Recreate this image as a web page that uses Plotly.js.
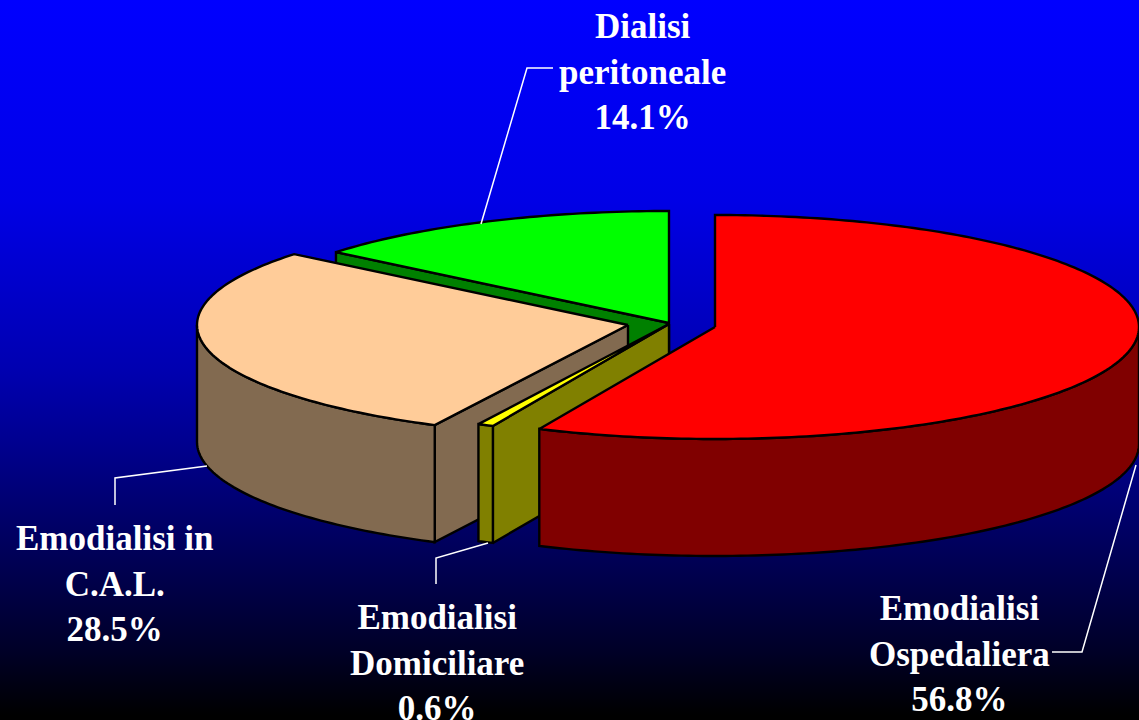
<!DOCTYPE html>
<html>
<head>
<meta charset="utf-8">
<script src="https://cdn.plot.ly/plotly-3.0.1.min.js"></script>
<style>
html,body{margin:0;padding:0;width:1139px;height:720px;overflow:hidden;
background:linear-gradient(to bottom,#0000ff 0px,#0000e6 200px,#0000b0 370px,#00008c 450px,#00005a 550px,#000028 650px,#000000 715px);}
#chart{width:1139px;height:720px;}
</style>
</head>
<body>
<div id="chart"></div>
<script>
// Data, clockwise from 12 o'clock
const categories = ["Emodialisi<br>Ospedaliera", "Emodialisi<br>Domiciliare", "Emodialisi in<br>C.A.L.", "Dialisi<br>peritoneale"];
const shares = [56.8, 0.6, 28.5, 14.1];
const topColors = ["#ff0000", "#ffff00", "#ffcc99", "#00ff00"];
const wallColors = ["#800000", "#808000", "#826a50", "#008000"];

// Pie projection per slice (explosion offsets)
const centreX = [715, 669, 628, 669];
const centreY = [327, 324, 325, 323];
const radiusX = [424, 425, 431, 430];
const radiusY = 112;
const depth = 117;

// Label placement and leader lines
const labelX = [959, 437, 114, 642];
const labelY = [654, 663, 584, 72];
const leaderX = [[1136, 1082, 1052], [488, 436, 436], [207, 115, 115], [481, 527, 553]];
const leaderY = [[465, 652, 652], [543, 558, 584], [466, 478, 505], [224, 68, 68]];

const total = shares.reduce((a, b) => a + b, 0);
const rad = d => d * Math.PI / 180;
const startAngle = [];
const endAngle = [];
let running = 0;
shares.forEach(v => {
  startAngle.push(running);
  running += v / total * 360;
  endAngle.push(running);
});

function arc(i, a0, a1, dy) {
  const xs = [], ys = [];
  const n = Math.max(2, Math.ceil(Math.abs(a1 - a0)));
  for (let k = 0; k <= n; k++) {
    const a = rad(a0 + (a1 - a0) * k / n);
    xs.push(centreX[i] + radiusX[i] * Math.sin(a));
    ys.push(centreY[i] - radiusY * Math.cos(a) + dy);
  }
  return [xs, ys];
}
function poly(xs, ys, color) {
  return {
    type: "scatter", mode: "lines", x: xs.concat(xs[0]), y: ys.concat(ys[0]),
    fill: "toself", fillcolor: color, line: {color: "#000", width: 2.4, simplify: false},
    hoverinfo: "skip", showlegend: false
  };
}
function topFace(i) {
  const [ax, ay] = arc(i, startAngle[i], endAngle[i], 0);
  return poly([centreX[i]].concat(ax), [centreY[i]].concat(ay), topColors[i]);
}
function outerWall(i) {
  const a0 = Math.max(startAngle[i], 90), a1 = Math.min(endAngle[i], 270);
  if (a1 <= a0) return null;
  const [tx, ty] = arc(i, a0, a1, 0);
  const [bx, by] = arc(i, a0, a1, depth);
  return poly(tx.concat(bx.reverse()), ty.concat(by.reverse()), wallColors[i]);
}
function radialWall(i, angle) {
  const [ox, oy] = arc(i, angle, angle, 0);
  const cx = centreX[i], cy = centreY[i];
  return poly([cx, ox[0], ox[0], cx], [cy, oy[0], oy[0] + depth, cy + depth], wallColors[i]);
}

// Painter's order, back to front: green, tan, yellow, red
const traces = [];
traces.push(radialWall(3, startAngle[3]), topFace(3));
traces.push(radialWall(2, startAngle[2]), outerWall(2), topFace(2));
traces.push(radialWall(1, startAngle[1]), outerWall(1), topFace(1));
traces.push(outerWall(0), topFace(0));

leaderX.forEach((xs, i) => traces.push({
  type: "scatter", mode: "lines", x: xs, y: leaderY[i],
  line: {color: "#ffffff", width: 1.5}, hoverinfo: "skip", showlegend: false
}));

const annotations = categories.map((c, i) => ({
  x: labelX[i], y: labelY[i], xref: "x", yref: "y",
  text: "<b>" + c + "<br>" + shares[i].toFixed(1) + "%</b>",
  showarrow: false, align: "center", xanchor: "center", yanchor: "middle",
  font: {family: "'Liberation Serif','Times New Roman',serif", size: 35, color: "#ffffff"}
}));

const hidden = {visible: false, fixedrange: true};
Plotly.newPlot("chart", traces, {
  width: 1139, height: 720,
  margin: {l: 0, r: 0, t: 0, b: 0},
  paper_bgcolor: "rgba(0,0,0,0)", plot_bgcolor: "rgba(0,0,0,0)",
  xaxis: Object.assign({range: [0, 1139]}, hidden),
  yaxis: Object.assign({range: [720, 0]}, hidden),
  showlegend: false,
  annotations
}, {displayModeBar: false, staticPlot: true});
</script>
</body>
</html>
